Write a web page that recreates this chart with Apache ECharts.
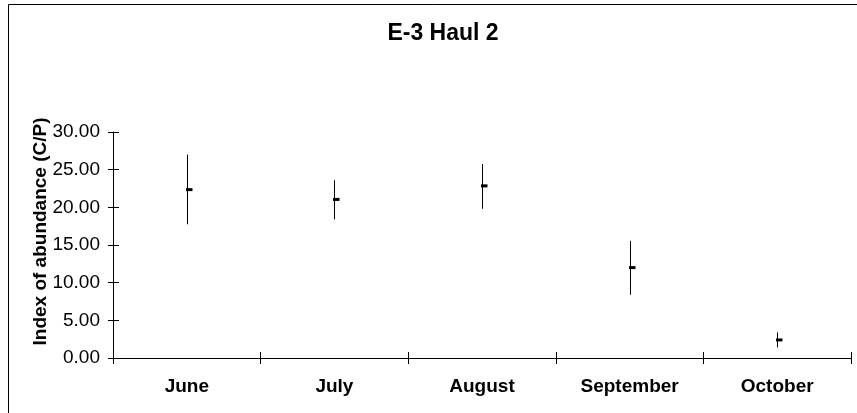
<!DOCTYPE html>
<html>
<head>
<meta charset="utf-8">
<style>
  html, body { margin: 0; padding: 0; background: #fff; }
  #chart { width: 857px; height: 413px; }
</style>
<script src="https://cdn.jsdelivr.net/npm/echarts@6/dist/echarts.min.js"></script>
</head>
<body>
<div id="chart"></div>
<script>
// Monthly index of abundance (C/P): range (low–high) and mean per month
const months = ['June', 'July', 'August', 'September', 'October'];
const lowValues  = [17.75, 18.40, 19.80, 8.40, 1.40];
const highValues = [27.00, 23.60, 25.75, 15.55, 3.40];
const meanValues = [22.35, 21.05, 22.85, 12.00, 2.40];
const yTicks = { min: 0, max: 30, step: 5 };

const FONT = '"Liberation Sans", Arial, sans-serif';

const rangeData = months.map((m, i) => [i, lowValues[i], highValues[i], meanValues[i]]);

function renderRange(params, api) {
  const lo = api.coord([api.value(0), api.value(1)]);
  const hi = api.coord([api.value(0), api.value(2)]);
  const mid = api.coord([api.value(0), api.value(3)]);
  const x = Math.round(lo[0]) + 0.5;
  return {
    type: 'group',
    children: [
      {
        type: 'line',
        shape: { x1: x, y1: lo[1], x2: x, y2: hi[1] },
        style: { stroke: '#000', lineWidth: 1 }
      },
      {
        type: 'rect',
        shape: { x: x - 1.5, y: mid[1] - 1.5, width: 6.5, height: 3 },
        style: { fill: '#000' }
      }
    ]
  };
}

const chart = echarts.init(document.getElementById('chart'), null, { renderer: 'canvas' });

const axisLineStyle = { show: true, lineStyle: { color: '#000', width: 1 } };

chart.setOption({
  animation: false,
  backgroundColor: '#fff',
  grid: { left: 113, right: 6, top: 132, bottom: 55, containLabel: false },
  xAxis: [
    {
      type: 'category',
      data: months,
      position: 'bottom',
      boundaryGap: true,
      axisLine: axisLineStyle,
      axisTick: { show: true, inside: false, length: 6, lineStyle: { color: '#000' } },
      axisLabel: {
        color: '#000', fontFamily: FONT, fontSize: 19, fontWeight: 'bold',
        margin: 19, interval: 0
      },
      splitLine: { show: false }
    },
    {
      type: 'category',
      data: months,
      position: 'bottom',
      boundaryGap: true,
      axisLine: { show: false },
      axisTick: { show: true, inside: true, length: 6, lineStyle: { color: '#000' } },
      axisLabel: { show: false },
      splitLine: { show: false }
    }
  ],
  yAxis: [
    {
      type: 'value',
      min: yTicks.min, max: yTicks.max, interval: yTicks.step,
      position: 'left',
      axisLine: axisLineStyle,
      axisTick: { show: true, inside: false, length: 5, lineStyle: { color: '#000' } },
      axisLabel: {
        color: '#000', fontFamily: FONT, fontSize: 19, margin: 13,
        formatter: v => v.toFixed(2)
      },
      splitLine: { show: false }
    },
    {
      type: 'value',
      min: yTicks.min, max: yTicks.max, interval: yTicks.step,
      position: 'left',
      axisLine: { show: false },
      axisTick: { show: true, inside: true, length: 6, lineStyle: { color: '#000' } },
      axisLabel: { show: false },
      splitLine: { show: false }
    }
  ],
  series: [
    {
      type: 'custom',
      xAxisIndex: 0,
      yAxisIndex: 0,
      renderItem: renderRange,
      encode: { x: 0, y: [1, 2, 3] },
      data: rangeData,
      clip: false
    }
  ],
  graphic: [
    {
      type: 'rect',
      shape: { x: 8.5, y: 4.5, width: 900, height: 500 },
      style: { fill: 'none', stroke: '#000', lineWidth: 1 },
      silent: true
    },
    {
      type: 'text',
      x: 443, y: 33.5,
      style: {
        text: 'E-3 Haul 2', fill: '#000', font: 'bold 23px ' + FONT,
        textAlign: 'center', textVerticalAlign: 'middle'
      }
    },
    {
      type: 'text',
      x: 41, y: 231.5,
      rotation: Math.PI / 2,
      style: {
        text: 'Index of abundance (C/P)', fill: '#000', font: 'bold 19px ' + FONT,
        textAlign: 'center', textVerticalAlign: 'middle'
      }
    }
  ]
});
</script>
</body>
</html>
